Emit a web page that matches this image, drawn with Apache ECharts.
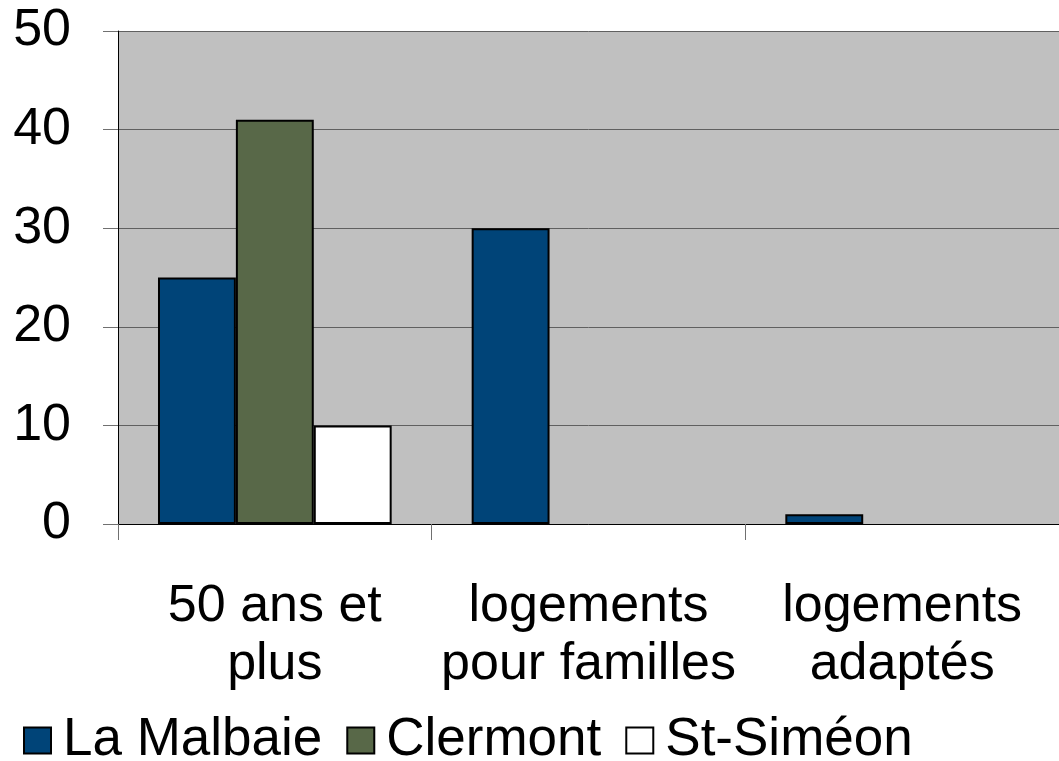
<!DOCTYPE html>
<html lang="fr">
<head>
    <meta charset="UTF-8">
    <script src="https://cdn.jsdelivr.net/npm/echarts@6/dist/echarts.min.js"></script>
    <style>
        html, body {
            margin: 0;
            padding: 0;
            background: #ffffff;
        }
        #main {
            width: 1059px;
            height: 761px;
        }
    </style>
</head>
<body>
<div id="main"></div>
<script type="text/javascript">
    const categories = ['50 ans et\nplus', 'logements\npour familles', 'logements\nadaptés'];
    const laMalbaie = [25, 30, 1];
    const clermont = [41, null, null];
    const stSimeon = [10, null, null];
    const yTicks = [0, 10, 20, 30, 40, 50];

    const font = 'Liberation Sans, Arial, sans-serif';
    const chart = echarts.init(document.getElementById('main'));

    function barSeries(name, data, color) {
        return {
            name: name,
            type: 'bar',
            data: data,
            barGap: 0,
            barCategoryGap: '25.5%',
            itemStyle: {
                color: color,
                borderColor: '#000000',
                borderWidth: 2
            }
        };
    }

    chart.setOption({
        animation: false,
        textStyle: { fontFamily: font },
        grid: {
            left: 118,
            right: 0,
            top: 31,
            bottom: 237,
            show: true,
            backgroundColor: '#C0C0C0',
            borderWidth: 0
        },
        legend: {
            left: 23,
            top: 714,
            padding: 0,
            itemWidth: 27,
            itemHeight: 26,
            itemGap: 24,
            icon: 'rect',
            textStyle: {
                fontSize: 53,
                color: '#000000',
                fontFamily: font,
                padding: [0, 0, 0, 7]
            },
            data: ['La Malbaie', 'Clermont', 'St-Siméon']
        },
        xAxis: {
            type: 'category',
            data: categories,
            axisLine: { lineStyle: { color: '#000000', width: 1 } },
            axisTick: { show: true, interval: 0, length: 16, lineStyle: { color: '#707070', width: 1 } },
            axisLabel: {
                interval: 0,
                fontSize: 52,
                lineHeight: 58,
                margin: 54,
                color: '#000000',
                fontFamily: font
            }
        },
        yAxis: {
            type: 'value',
            min: yTicks[0],
            max: yTicks[yTicks.length - 1],
            interval: 10,
            axisLine: { show: true, lineStyle: { color: '#000000', width: 1 } },
            axisTick: { show: true, length: 15, lineStyle: { color: '#707070' } },
            splitLine: { lineStyle: { color: '#606060', width: 1 } },
            axisLabel: {
                fontSize: 52,
                margin: 47,
                color: '#000000',
                fontFamily: font
            }
        },
        series: [
            barSeries('La Malbaie', laMalbaie, '#004478'),
            barSeries('Clermont', clermont, '#586848'),
            barSeries('St-Siméon', stSimeon, '#ffffff')
        ]
    });
</script>
</body>
</html>
